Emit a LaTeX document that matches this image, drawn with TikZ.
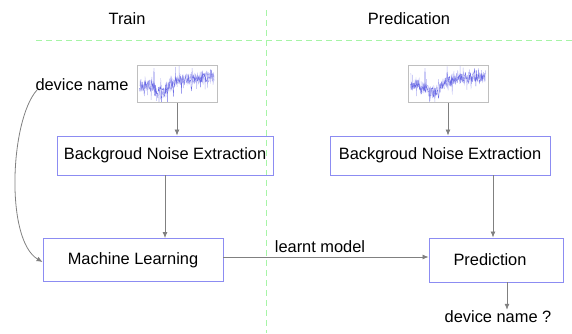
\documentclass[tikz,border=0pt]{standalone}
\usepackage{fontspec}
\setmainfont{Liberation Sans}
\usetikzlibrary{arrows.meta}
\definecolor{boxblue}{HTML}{8C8CF2}
\definecolor{arrgray}{HTML}{808080}
\definecolor{dashgreen}{HTML}{A6F5A6}
\definecolor{sigblue}{HTML}{5050E0}
\tikzset{
  procbox/.style={draw=boxblue, line width=0.9pt, rectangle, inner sep=0pt, font=\fontsize{16.4}{18}\selectfont},
  sigbox/.style={draw=black!25, line width=0.7pt, rectangle, inner sep=0pt, minimum width=80, minimum height=37},
  arr/.style={draw=arrgray, line width=0.8pt, -{Latex[length=6pt,width=5pt]}},
  lbl/.style={font=\fontsize{16.4}{18}\selectfont, inner sep=1pt},
  sep/.style={draw=dashgreen, line width=0.8pt, dash pattern=on 6pt off 4pt}
}
\newcommand{\mysignal}[3]{%
  \begin{scope}
    \clip (#1-39,#2-17.5) rectangle (#1+39,#2+17.5);
    \pgfmathsetseed{#3}
    \draw[sigblue!45, line width=0.35pt] plot[domain=0.02:0.98, samples=220]
      ({#1-39+78*\x}, {#2 + 1 - 9*\x + 10*exp(-((\x-0.3)/0.12)^2) + 6.5*rand + 12*rand^7});
    \pgfmathsetmacro{\seedb}{#3+11}
    \pgfmathsetseed{\seedb}
    \draw[sigblue!85, line width=0.3pt] plot[domain=0.02:0.98, samples=160]
      ({#1-39+78*\x}, {#2 + 1 - 9*\x + 10*exp(-((\x-0.3)/0.12)^2) + 5*rand + 12*rand^9});
    \draw[sigblue!85, line width=0.35pt] (#1-39+78*0.2,#2+3) -- (#1-39+78*0.205,#2-16) -- (#1-39+78*0.21,#2+4);
  \end{scope}}
\begin{document}
\begin{tikzpicture}[x=1pt,y=-1pt]
\useasboundingbox (0,0) rectangle (572,333);
% separators
\draw[sep] (266,10) -- (266,333);
\draw[sep] (36,40) -- (572,40);
\node[lbl] (train) at (127,19) {Train};
\node[lbl] (pred) at (409,19) {Predication};
% signal boxes
\mysignal{177}{84}{3}
\mysignal{448}{84}{5}
\node[sigbox] (sigL) at (177,84) {};
\node[sigbox] (sigR) at (448,84) {};
\node[lbl] (devL) at (82,85) {device name};
% process boxes
\node[procbox, minimum width=216, minimum height=39] (bneL) at (165,155.5) {Backgroud Noise Extraction};
\node[procbox, minimum width=220, minimum height=39] (bneR) at (440,155.5) {Backgroud Noise Extraction};
\node[procbox, minimum width=180, minimum height=43] (ml) at (133,260) {Machine Learning};
\node[procbox, minimum width=134, minimum height=44] (predbox) at (496,260) {\hspace*{-12pt}Prediction};
\node[lbl] (devR) at (498,317) {device name ?};
\node[lbl] (learnt) at (320,247) {learnt model};
% connectors
\draw[arr] (sigL.south) -- (sigL.south |- bneL.north);
\draw[arr] (sigR.south) -- (sigR.south |- bneR.north);
\draw[arr] (bneL.south) -- (bneL.south |- ml.north);
\draw[arr] ([xshift=-3]predbox.north |- bneR.south) -- ([xshift=-3]predbox.north);
\draw[arr] ([yshift=3]ml.east) -- ([yshift=3]predbox.west);
\draw[arr] ([xshift=11]predbox.south) -- ([xshift=11]predbox.south |- devR.north);
\draw[arr] (37,90) .. controls (10,120) and (5,240) .. ([yshift=-2]ml.west);
\end{tikzpicture}
\end{document}
